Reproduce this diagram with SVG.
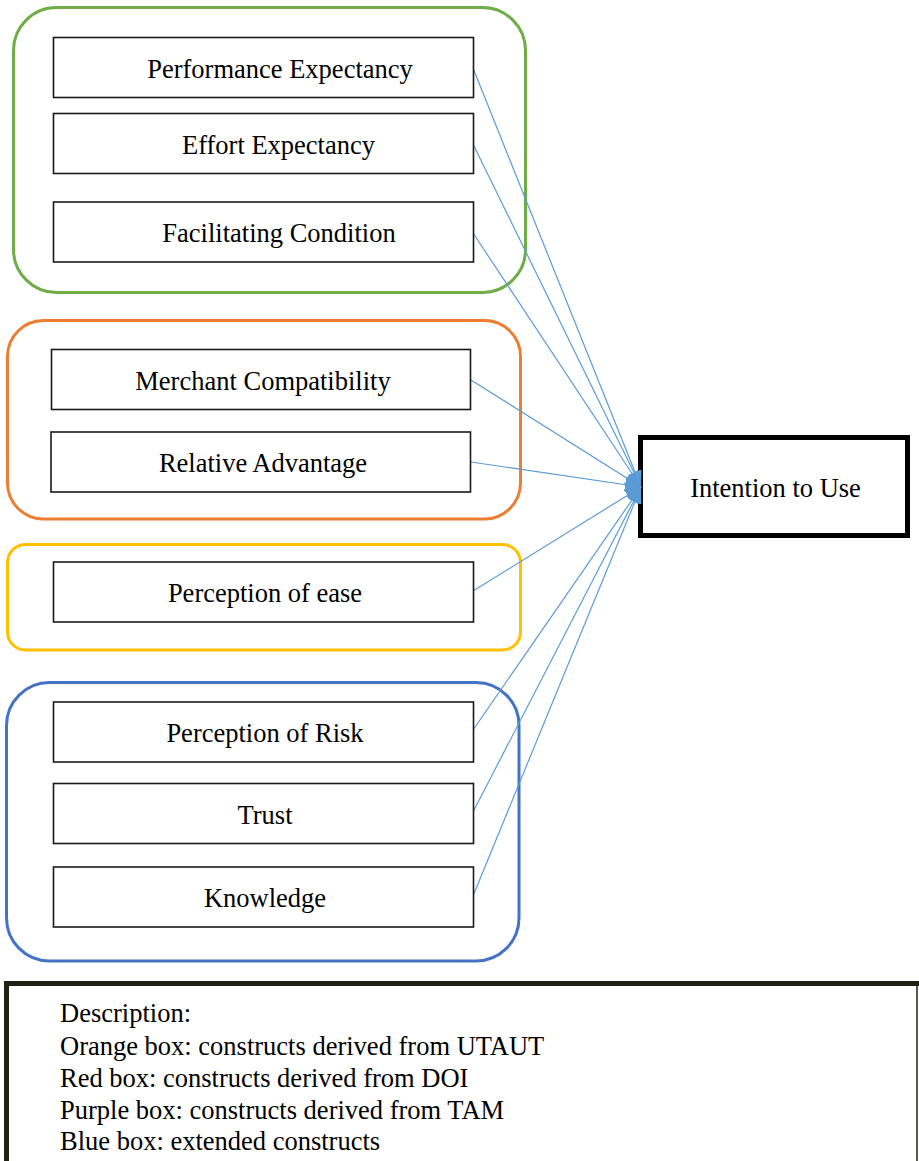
<svg xmlns="http://www.w3.org/2000/svg" width="919" height="1161" viewBox="0 0 919 1161">
<style>
.grp{fill:none;stroke-width:3}
.node rect{fill:#fff;stroke:#1a1a1a;stroke-width:1.6}
.t{font-family:"Liberation Serif","Times New Roman",serif;font-size:26.5px;fill:#000;text-anchor:middle}
.lg{font-family:"Liberation Serif","Times New Roman",serif;font-size:26.5px;fill:#000}
.conn line{stroke:#5B9BD5;stroke-width:1.2;marker-end:url(#ah)}
</style>
<defs>
<marker id="ah" markerUnits="userSpaceOnUse" markerWidth="16" markerHeight="14" refX="16" refY="7" orient="auto">
<path d="M0,0 L16,7 L0,14 Z" fill="#5B9BD5"/>
</marker>
</defs>
<rect width="919" height="1161" fill="#fff"/>
<g id="group-green"><rect class="grp" x="13.5" y="7.5" width="512" height="285" rx="43" stroke="#70AD47"/></g>
<g id="group-orange"><rect class="grp" x="7.5" y="320.5" width="513" height="198.5" rx="36" stroke="#ED7D31"/></g>
<g id="group-yellow"><rect class="grp" x="7.5" y="544.5" width="513" height="105.5" rx="18" stroke="#FFC000"/></g>
<g id="group-blue"><rect class="grp" x="6.5" y="682.5" width="512.5" height="278.5" rx="43" stroke="#4472C4"/></g>

<g id="intention" class="node">
<rect x="640.5" y="437.5" width="267" height="98" style="stroke:#000;stroke-width:5"/>
<text class="t" x="775.5" y="497">Intention to Use</text>
</g>

<g id="connectors" class="conn">
<line x1="473" y1="68" x2="641" y2="487"/>
<line x1="473" y1="144" x2="641" y2="487"/>
<line x1="473" y1="233" x2="641" y2="487"/>
<line x1="471" y1="380" x2="641" y2="487"/>
<line x1="471" y1="462" x2="641" y2="487"/>
<line x1="473" y1="591" x2="641" y2="487"/>
<line x1="473" y1="730" x2="641" y2="487"/>
<line x1="473" y1="812" x2="641" y2="487"/>
<line x1="473" y1="896" x2="641" y2="487"/>
</g>

<g id="performance" class="node"><rect x="53.5" y="37.5" width="420" height="60"/><text class="t" x="280" y="78">Performance Expectancy</text></g>
<g id="effort" class="node"><rect x="53.5" y="113.5" width="420" height="60"/><text class="t" x="278.5" y="154">Effort Expectancy</text></g>
<g id="facilitating" class="node"><rect x="53.5" y="202" width="420" height="60"/><text class="t" x="279" y="242">Facilitating Condition</text></g>
<g id="merchant" class="node"><rect x="51.5" y="349.5" width="419" height="60"/><text class="t" x="263" y="389.5">Merchant Compatibility</text></g>
<g id="relative" class="node"><rect x="51" y="432" width="419.5" height="60"/><text class="t" x="263" y="472">Relative Advantage</text></g>
<g id="ease" class="node"><rect x="53.5" y="562" width="420" height="60"/><text class="t" x="265" y="602">Perception of ease</text></g>
<g id="risk" class="node"><rect x="53.5" y="702" width="420" height="60"/><text class="t" x="265" y="742">Perception of Risk</text></g>
<g id="trust" class="node"><rect x="53.5" y="783.5" width="420" height="60"/><text class="t" x="265" y="824">Trust</text></g>
<g id="knowledge" class="node"><rect x="53.5" y="867" width="420" height="60"/><text class="t" x="265" y="907">Knowledge</text></g>

<g id="legend">
<path d="M6.5,1163 L6.5,983.5 L919,983.5" fill="none" stroke="#1e2314" stroke-width="5"/>
<line x1="917" y1="986" x2="917" y2="1161" stroke="#1e2314" stroke-width="1.5"/>
<text class="lg" x="60" y="1022">Description:</text>
<text class="lg" x="60" y="1054.5">Orange box: constructs derived from UTAUT</text>
<text class="lg" x="60" y="1086.5">Red box: constructs derived from DOI</text>
<text class="lg" x="60" y="1118.5">Purple box: constructs derived from TAM</text>
<text class="lg" x="60" y="1150">Blue box: extended constructs</text>
</g>
</svg>
